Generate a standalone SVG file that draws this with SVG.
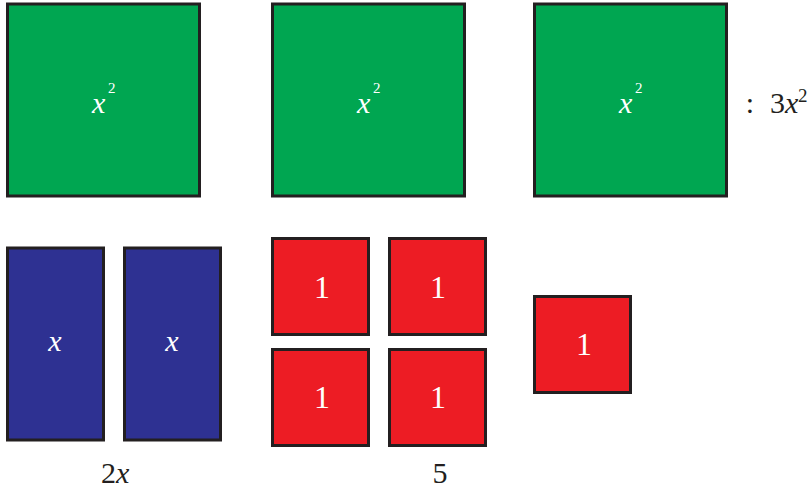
<svg xmlns="http://www.w3.org/2000/svg" width="810" height="493" viewBox="0 0 810 493">
<style>
.t{stroke:#231f20;stroke-width:3}
.g{fill:#00a651}
.b{fill:#2e3192}
.r{fill:#ed1c24}
text{font-family:'Liberation Serif','Times New Roman',serif;font-size:30px}
.m{text-anchor:middle}
.n{font-size:32px}
.w{fill:#ffffff}
.k{fill:#231f20}
.i{font-style:italic}
.s{font-size:15px}
.s2{font-size:19px}
</style>
<rect width="810" height="493" fill="#ffffff"/>
<g id="sq1"><rect class="t g" x="7.5" y="4" width="192" height="192"/><text class="w" x="92" y="113"><tspan class="i">x</tspan><tspan class="s" x="108" y="93">2</tspan></text></g>
<g id="sq2"><rect class="t g" x="272.5" y="4" width="192" height="192"/><text class="w" x="357" y="113"><tspan class="i">x</tspan><tspan class="s" x="373" y="93">2</tspan></text></g>
<g id="sq3"><rect class="t g" x="534.5" y="4" width="192" height="192"/><text class="w" x="619" y="113"><tspan class="i">x</tspan><tspan class="s" x="635" y="93">2</tspan></text></g>
<g id="lbl3x2"><text class="k m" x="750" y="113">:</text><text class="k" x="770" y="113">3<tspan class="i">x</tspan><tspan class="s2" x="798" y="102">2</tspan></text></g>
<g id="x1"><rect class="t b" x="7.5" y="248" width="96" height="192"/><text class="w i m" x="55" y="351">x</text></g>
<g id="x2"><rect class="t b" x="124.5" y="248" width="96" height="192"/><text class="w i m" x="172" y="351">x</text></g>
<g id="lbl2x"><text class="k" x="101" y="483">2<tspan class="i">x</tspan></text></g>
<g id="u1"><rect class="t r" x="272.5" y="238.5" width="96" height="96"/><text class="w m n" x="322" y="298">1</text></g>
<g id="u2"><rect class="t r" x="389.5" y="238.5" width="96" height="96"/><text class="w m n" x="438" y="298">1</text></g>
<g id="u3"><rect class="t r" x="272.5" y="349.5" width="96" height="96"/><text class="w m n" x="322" y="408">1</text></g>
<g id="u4"><rect class="t r" x="389.5" y="349.5" width="96" height="96"/><text class="w m n" x="438" y="408">1</text></g>
<g id="u5"><rect class="t r" x="534.5" y="296.5" width="96" height="96"/><text class="w m n" x="584" y="355">1</text></g>
<g id="lbl5"><text class="k m" x="440" y="483">5</text></g>
<g id="connectors"/>
</svg>
